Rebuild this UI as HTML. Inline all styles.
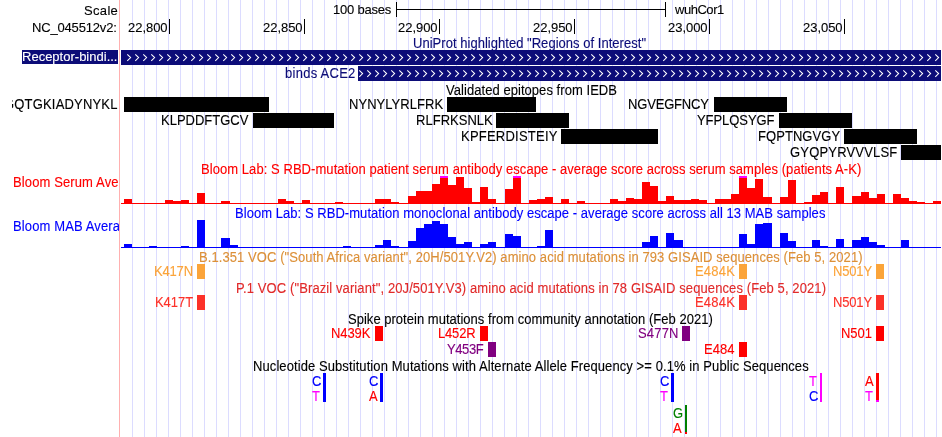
<!DOCTYPE html>
<html><head><meta charset="utf-8"><style>
html,body{margin:0;padding:0;background:#fff;}
#c{position:relative;width:942px;height:437px;overflow:hidden;background:#fff;}
.t{position:absolute;white-space:nowrap;will-change:transform;transform-origin:0 11px;-webkit-text-stroke:0.12px currentColor;font-family:"Liberation Sans",sans-serif;}
</style></head><body><div id="c">
<svg width="942" height="437" style="position:absolute;left:0;top:0" shape-rendering="crispEdges"><rect x="132" y="0" width="1" height="437" fill="#dcdcff"/><rect x="144" y="0" width="1" height="437" fill="#dcdcff"/><rect x="156" y="0" width="1" height="437" fill="#dcdcff"/><rect x="168" y="0" width="1" height="437" fill="#dcdcff"/><rect x="180" y="0" width="1" height="437" fill="#dcdcff"/><rect x="192" y="0" width="1" height="437" fill="#dcdcff"/><rect x="204" y="0" width="1" height="437" fill="#dcdcff"/><rect x="216" y="0" width="1" height="437" fill="#dcdcff"/><rect x="228" y="0" width="1" height="437" fill="#dcdcff"/><rect x="240" y="0" width="1" height="437" fill="#dcdcff"/><rect x="252" y="0" width="1" height="437" fill="#dcdcff"/><rect x="264" y="0" width="1" height="437" fill="#dcdcff"/><rect x="276" y="0" width="1" height="437" fill="#dcdcff"/><rect x="288" y="0" width="1" height="437" fill="#dcdcff"/><rect x="300" y="0" width="1" height="437" fill="#dcdcff"/><rect x="312" y="0" width="1" height="437" fill="#dcdcff"/><rect x="324" y="0" width="1" height="437" fill="#dcdcff"/><rect x="336" y="0" width="1" height="437" fill="#dcdcff"/><rect x="348" y="0" width="1" height="437" fill="#dcdcff"/><rect x="360" y="0" width="1" height="437" fill="#dcdcff"/><rect x="372" y="0" width="1" height="437" fill="#dcdcff"/><rect x="384" y="0" width="1" height="437" fill="#dcdcff"/><rect x="396" y="0" width="1" height="437" fill="#dcdcff"/><rect x="408" y="0" width="1" height="437" fill="#dcdcff"/><rect x="420" y="0" width="1" height="437" fill="#dcdcff"/><rect x="432" y="0" width="1" height="437" fill="#dcdcff"/><rect x="444" y="0" width="1" height="437" fill="#dcdcff"/><rect x="456" y="0" width="1" height="437" fill="#dcdcff"/><rect x="468" y="0" width="1" height="437" fill="#dcdcff"/><rect x="480" y="0" width="1" height="437" fill="#dcdcff"/><rect x="492" y="0" width="1" height="437" fill="#dcdcff"/><rect x="504" y="0" width="1" height="437" fill="#dcdcff"/><rect x="516" y="0" width="1" height="437" fill="#dcdcff"/><rect x="528" y="0" width="1" height="437" fill="#dcdcff"/><rect x="540" y="0" width="1" height="437" fill="#dcdcff"/><rect x="552" y="0" width="1" height="437" fill="#dcdcff"/><rect x="564" y="0" width="1" height="437" fill="#dcdcff"/><rect x="576" y="0" width="1" height="437" fill="#dcdcff"/><rect x="588" y="0" width="1" height="437" fill="#dcdcff"/><rect x="600" y="0" width="1" height="437" fill="#dcdcff"/><rect x="612" y="0" width="1" height="437" fill="#dcdcff"/><rect x="624" y="0" width="1" height="437" fill="#dcdcff"/><rect x="636" y="0" width="1" height="437" fill="#dcdcff"/><rect x="648" y="0" width="1" height="437" fill="#dcdcff"/><rect x="660" y="0" width="1" height="437" fill="#dcdcff"/><rect x="672" y="0" width="1" height="437" fill="#dcdcff"/><rect x="684" y="0" width="1" height="437" fill="#dcdcff"/><rect x="696" y="0" width="1" height="437" fill="#dcdcff"/><rect x="708" y="0" width="1" height="437" fill="#dcdcff"/><rect x="720" y="0" width="1" height="437" fill="#dcdcff"/><rect x="732" y="0" width="1" height="437" fill="#dcdcff"/><rect x="744" y="0" width="1" height="437" fill="#dcdcff"/><rect x="756" y="0" width="1" height="437" fill="#dcdcff"/><rect x="768" y="0" width="1" height="437" fill="#dcdcff"/><rect x="780" y="0" width="1" height="437" fill="#dcdcff"/><rect x="792" y="0" width="1" height="437" fill="#dcdcff"/><rect x="804" y="0" width="1" height="437" fill="#dcdcff"/><rect x="816" y="0" width="1" height="437" fill="#dcdcff"/><rect x="828" y="0" width="1" height="437" fill="#dcdcff"/><rect x="840" y="0" width="1" height="437" fill="#dcdcff"/><rect x="852" y="0" width="1" height="437" fill="#dcdcff"/><rect x="864" y="0" width="1" height="437" fill="#dcdcff"/><rect x="876" y="0" width="1" height="437" fill="#dcdcff"/><rect x="888" y="0" width="1" height="437" fill="#dcdcff"/><rect x="900" y="0" width="1" height="437" fill="#dcdcff"/><rect x="912" y="0" width="1" height="437" fill="#dcdcff"/><rect x="924" y="0" width="1" height="437" fill="#dcdcff"/><rect x="936" y="0" width="1" height="437" fill="#dcdcff"/><rect x="119" y="0" width="1" height="437" fill="#ffb0b0"/><rect x="396" y="2" width="1" height="15" fill="#000"/><rect x="396" y="9" width="270" height="1" fill="#000"/><rect x="665" y="2" width="1" height="15" fill="#000"/><rect x="169" y="19" width="1" height="15" fill="#000"/><rect x="304" y="19" width="1" height="15" fill="#000"/><rect x="439" y="19" width="1" height="15" fill="#000"/><rect x="574" y="19" width="1" height="15" fill="#000"/><rect x="709" y="19" width="1" height="15" fill="#000"/><rect x="844" y="19" width="1" height="15" fill="#000"/><rect x="121" y="50" width="820" height="15" fill="#0c0c78"/><rect x="22" y="50" width="96" height="14" fill="#0c0c78"/><rect x="358" y="66" width="583" height="15" fill="#0c0c78"/><rect x="124" y="97" width="145" height="15" fill="#000"/><rect x="447" y="97" width="89" height="15" fill="#000"/><rect x="714" y="97" width="73" height="15" fill="#000"/><rect x="253" y="113" width="81" height="15" fill="#000"/><rect x="496" y="113" width="73" height="15" fill="#000"/><rect x="779" y="113" width="73" height="15" fill="#000"/><rect x="561" y="129" width="97" height="15" fill="#000"/><rect x="844" y="129" width="73" height="15" fill="#000"/><rect x="901" y="145" width="40" height="15" fill="#000"/><rect x="124" y="199" width="8" height="4" fill="#ff0000"/><rect x="165" y="200" width="8" height="3" fill="#ff0000"/><rect x="173" y="201" width="8" height="2" fill="#ff0000"/><rect x="181" y="200" width="8" height="3" fill="#ff0000"/><rect x="197" y="193" width="8" height="10" fill="#ff0000"/><rect x="221" y="201" width="9" height="2" fill="#ff0000"/><rect x="278" y="199" width="8" height="4" fill="#ff0000"/><rect x="286" y="201" width="8" height="2" fill="#ff0000"/><rect x="302" y="200" width="8" height="3" fill="#ff0000"/><rect x="335" y="202" width="8" height="1" fill="#ff0000"/><rect x="375" y="199" width="8" height="4" fill="#ff0000"/><rect x="383" y="199" width="8" height="4" fill="#ff0000"/><rect x="391" y="202" width="8" height="1" fill="#ff0000"/><rect x="408" y="196" width="8" height="7" fill="#ff0000"/><rect x="416" y="191" width="8" height="12" fill="#ff0000"/><rect x="424" y="191" width="8" height="12" fill="#ff0000"/><rect x="432" y="184" width="8" height="19" fill="#ff0000"/><rect x="440" y="176" width="8" height="2" fill="#ff00ff"/><rect x="440" y="178" width="8" height="25" fill="#ff0000"/><rect x="448" y="185" width="8" height="18" fill="#ff0000"/><rect x="456" y="177" width="8" height="26" fill="#ff0000"/><rect x="464" y="188" width="8" height="15" fill="#ff0000"/><rect x="472" y="202" width="8" height="1" fill="#ff0000"/><rect x="480" y="187" width="8" height="16" fill="#ff0000"/><rect x="488" y="199" width="8" height="4" fill="#ff0000"/><rect x="505" y="189" width="8" height="14" fill="#ff0000"/><rect x="513" y="176" width="8" height="2" fill="#ff00ff"/><rect x="513" y="178" width="8" height="25" fill="#ff0000"/><rect x="529" y="200" width="8" height="3" fill="#ff0000"/><rect x="537" y="199" width="8" height="4" fill="#ff0000"/><rect x="545" y="197" width="8" height="6" fill="#ff0000"/><rect x="561" y="199" width="8" height="4" fill="#ff0000"/><rect x="577" y="201" width="8" height="2" fill="#ff0000"/><rect x="610" y="199" width="8" height="4" fill="#ff0000"/><rect x="618" y="201" width="8" height="2" fill="#ff0000"/><rect x="626" y="198" width="8" height="5" fill="#ff0000"/><rect x="634" y="199" width="8" height="4" fill="#ff0000"/><rect x="642" y="182" width="8" height="21" fill="#ff0000"/><rect x="650" y="186" width="8" height="17" fill="#ff0000"/><rect x="658" y="201" width="8" height="2" fill="#ff0000"/><rect x="666" y="196" width="8" height="7" fill="#ff0000"/><rect x="674" y="200" width="9" height="3" fill="#ff0000"/><rect x="683" y="200" width="8" height="3" fill="#ff0000"/><rect x="691" y="199" width="8" height="4" fill="#ff0000"/><rect x="699" y="200" width="8" height="3" fill="#ff0000"/><rect x="715" y="199" width="8" height="4" fill="#ff0000"/><rect x="723" y="199" width="8" height="4" fill="#ff0000"/><rect x="731" y="194" width="8" height="9" fill="#ff0000"/><rect x="739" y="176" width="8" height="2" fill="#ff00ff"/><rect x="739" y="178" width="8" height="25" fill="#ff0000"/><rect x="747" y="188" width="8" height="15" fill="#ff0000"/><rect x="755" y="179" width="8" height="24" fill="#ff0000"/><rect x="763" y="197" width="9" height="6" fill="#ff0000"/><rect x="780" y="197" width="8" height="6" fill="#ff0000"/><rect x="788" y="180" width="8" height="23" fill="#ff0000"/><rect x="804" y="202" width="8" height="1" fill="#ff0000"/><rect x="812" y="195" width="8" height="8" fill="#ff0000"/><rect x="820" y="192" width="8" height="11" fill="#ff0000"/><rect x="836" y="187" width="8" height="16" fill="#ff0000"/><rect x="852" y="196" width="9" height="7" fill="#ff0000"/><rect x="861" y="192" width="8" height="11" fill="#ff0000"/><rect x="869" y="198" width="8" height="5" fill="#ff0000"/><rect x="877" y="194" width="8" height="9" fill="#ff0000"/><rect x="893" y="194" width="8" height="9" fill="#ff0000"/><rect x="901" y="198" width="8" height="5" fill="#ff0000"/><rect x="909" y="201" width="8" height="2" fill="#ff0000"/><rect x="917" y="202" width="8" height="1" fill="#ff0000"/><rect x="933" y="201" width="8" height="2" fill="#ff0000"/><rect x="121" y="203" width="820" height="1" fill="#ff0000"/><rect x="124" y="244" width="8" height="3" fill="#0000ff"/><rect x="149" y="246" width="8" height="1" fill="#0000ff"/><rect x="181" y="246" width="8" height="1" fill="#0000ff"/><rect x="197" y="220" width="8" height="27" fill="#0000ff"/><rect x="221" y="238" width="9" height="9" fill="#0000ff"/><rect x="230" y="245" width="8" height="2" fill="#0000ff"/><rect x="343" y="246" width="8" height="1" fill="#0000ff"/><rect x="375" y="245" width="8" height="2" fill="#0000ff"/><rect x="383" y="240" width="8" height="7" fill="#0000ff"/><rect x="391" y="246" width="8" height="1" fill="#0000ff"/><rect x="408" y="241" width="8" height="6" fill="#0000ff"/><rect x="416" y="228" width="8" height="19" fill="#0000ff"/><rect x="424" y="224" width="8" height="23" fill="#0000ff"/><rect x="432" y="221" width="8" height="26" fill="#0000ff"/><rect x="440" y="224" width="8" height="23" fill="#0000ff"/><rect x="448" y="237" width="8" height="10" fill="#0000ff"/><rect x="456" y="244" width="8" height="3" fill="#0000ff"/><rect x="464" y="242" width="8" height="5" fill="#0000ff"/><rect x="480" y="244" width="8" height="3" fill="#0000ff"/><rect x="488" y="242" width="8" height="5" fill="#0000ff"/><rect x="505" y="234" width="8" height="13" fill="#0000ff"/><rect x="513" y="236" width="8" height="11" fill="#0000ff"/><rect x="537" y="246" width="8" height="1" fill="#0000ff"/><rect x="545" y="230" width="8" height="17" fill="#0000ff"/><rect x="642" y="242" width="8" height="5" fill="#0000ff"/><rect x="650" y="236" width="8" height="11" fill="#0000ff"/><rect x="666" y="233" width="8" height="14" fill="#0000ff"/><rect x="674" y="240" width="9" height="7" fill="#0000ff"/><rect x="739" y="234" width="8" height="13" fill="#0000ff"/><rect x="747" y="244" width="8" height="3" fill="#0000ff"/><rect x="755" y="224" width="8" height="23" fill="#0000ff"/><rect x="763" y="223" width="9" height="24" fill="#0000ff"/><rect x="780" y="233" width="8" height="14" fill="#0000ff"/><rect x="788" y="241" width="8" height="6" fill="#0000ff"/><rect x="812" y="240" width="8" height="7" fill="#0000ff"/><rect x="820" y="246" width="8" height="1" fill="#0000ff"/><rect x="836" y="239" width="8" height="8" fill="#0000ff"/><rect x="852" y="240" width="9" height="7" fill="#0000ff"/><rect x="861" y="237" width="8" height="10" fill="#0000ff"/><rect x="869" y="242" width="8" height="5" fill="#0000ff"/><rect x="877" y="245" width="8" height="2" fill="#0000ff"/><rect x="901" y="240" width="8" height="7" fill="#0000ff"/><rect x="121" y="247" width="820" height="1" fill="#0000ff"/><rect x="197" y="264" width="8" height="15" fill="#fba43a"/><rect x="739" y="264" width="8" height="15" fill="#fba43a"/><rect x="876" y="264" width="8" height="15" fill="#fba43a"/><rect x="197" y="295" width="8" height="15" fill="#fc3129"/><rect x="739" y="295" width="8" height="15" fill="#fc3129"/><rect x="876" y="295" width="8" height="15" fill="#fc3129"/><rect x="375" y="326" width="8" height="15" fill="#ff0000"/><rect x="480" y="326" width="8" height="15" fill="#ff0000"/><rect x="682" y="326" width="8" height="15" fill="#800080"/><rect x="876" y="326" width="8" height="15" fill="#ff0000"/><rect x="488" y="342" width="8" height="15" fill="#800080"/><rect x="739" y="342" width="8" height="15" fill="#ff0000"/><rect x="323" y="373" width="3" height="29" fill="#0000ff"/><rect x="380" y="373" width="3" height="29" fill="#0000ff"/><rect x="671" y="373" width="3" height="29" fill="#0000ff"/><rect x="685" y="405" width="2" height="29" fill="#008000"/><rect x="685" y="432" width="2" height="2" fill="#ff0000"/><rect x="820" y="373" width="2" height="29" fill="#ff00ff"/><rect x="876" y="373" width="3" height="29" fill="#ff0000"/><rect x="876" y="400" width="3" height="2" fill="#ff00ff"/><path d="M127.3,54.4 L130.6,57.6 L127.3,60.8 M135.3,54.4 L138.6,57.6 L135.3,60.8 M143.3,54.4 L146.6,57.6 L143.3,60.8 M151.3,54.4 L154.6,57.6 L151.3,60.8 M159.3,54.4 L162.6,57.6 L159.3,60.8 M167.3,54.4 L170.6,57.6 L167.3,60.8 M175.3,54.4 L178.6,57.6 L175.3,60.8 M183.3,54.4 L186.6,57.6 L183.3,60.8 M191.3,54.4 L194.6,57.6 L191.3,60.8 M199.3,54.4 L202.6,57.6 L199.3,60.8 M207.3,54.4 L210.6,57.6 L207.3,60.8 M215.3,54.4 L218.6,57.6 L215.3,60.8 M223.3,54.4 L226.6,57.6 L223.3,60.8 M231.3,54.4 L234.6,57.6 L231.3,60.8 M239.3,54.4 L242.6,57.6 L239.3,60.8 M247.3,54.4 L250.6,57.6 L247.3,60.8 M255.3,54.4 L258.6,57.6 L255.3,60.8 M263.3,54.4 L266.6,57.6 L263.3,60.8 M271.3,54.4 L274.6,57.6 L271.3,60.8 M279.3,54.4 L282.6,57.6 L279.3,60.8 M287.3,54.4 L290.6,57.6 L287.3,60.8 M295.3,54.4 L298.6,57.6 L295.3,60.8 M303.3,54.4 L306.6,57.6 L303.3,60.8 M311.3,54.4 L314.6,57.6 L311.3,60.8 M319.3,54.4 L322.6,57.6 L319.3,60.8 M327.3,54.4 L330.6,57.6 L327.3,60.8 M335.3,54.4 L338.6,57.6 L335.3,60.8 M343.3,54.4 L346.6,57.6 L343.3,60.8 M351.3,54.4 L354.6,57.6 L351.3,60.8 M359.3,54.4 L362.6,57.6 L359.3,60.8 M367.3,54.4 L370.6,57.6 L367.3,60.8 M375.3,54.4 L378.6,57.6 L375.3,60.8 M383.3,54.4 L386.6,57.6 L383.3,60.8 M391.3,54.4 L394.6,57.6 L391.3,60.8 M399.3,54.4 L402.6,57.6 L399.3,60.8 M407.3,54.4 L410.6,57.6 L407.3,60.8 M415.3,54.4 L418.6,57.6 L415.3,60.8 M423.3,54.4 L426.6,57.6 L423.3,60.8 M431.3,54.4 L434.6,57.6 L431.3,60.8 M439.3,54.4 L442.6,57.6 L439.3,60.8 M447.3,54.4 L450.6,57.6 L447.3,60.8 M455.3,54.4 L458.6,57.6 L455.3,60.8 M463.3,54.4 L466.6,57.6 L463.3,60.8 M471.3,54.4 L474.6,57.6 L471.3,60.8 M479.3,54.4 L482.6,57.6 L479.3,60.8 M487.3,54.4 L490.6,57.6 L487.3,60.8 M495.3,54.4 L498.6,57.6 L495.3,60.8 M503.3,54.4 L506.6,57.6 L503.3,60.8 M511.3,54.4 L514.6,57.6 L511.3,60.8 M519.3,54.4 L522.6,57.6 L519.3,60.8 M527.3,54.4 L530.6,57.6 L527.3,60.8 M535.3,54.4 L538.6,57.6 L535.3,60.8 M543.3,54.4 L546.6,57.6 L543.3,60.8 M551.3,54.4 L554.6,57.6 L551.3,60.8 M559.3,54.4 L562.6,57.6 L559.3,60.8 M567.3,54.4 L570.6,57.6 L567.3,60.8 M575.3,54.4 L578.6,57.6 L575.3,60.8 M583.3,54.4 L586.6,57.6 L583.3,60.8 M591.3,54.4 L594.6,57.6 L591.3,60.8 M599.3,54.4 L602.6,57.6 L599.3,60.8 M607.3,54.4 L610.6,57.6 L607.3,60.8 M615.3,54.4 L618.6,57.6 L615.3,60.8 M623.3,54.4 L626.6,57.6 L623.3,60.8 M631.3,54.4 L634.6,57.6 L631.3,60.8 M639.3,54.4 L642.6,57.6 L639.3,60.8 M647.3,54.4 L650.6,57.6 L647.3,60.8 M655.3,54.4 L658.6,57.6 L655.3,60.8 M663.3,54.4 L666.6,57.6 L663.3,60.8 M671.3,54.4 L674.6,57.6 L671.3,60.8 M679.3,54.4 L682.6,57.6 L679.3,60.8 M687.3,54.4 L690.6,57.6 L687.3,60.8 M695.3,54.4 L698.6,57.6 L695.3,60.8 M703.3,54.4 L706.6,57.6 L703.3,60.8 M711.3,54.4 L714.6,57.6 L711.3,60.8 M719.3,54.4 L722.6,57.6 L719.3,60.8 M727.3,54.4 L730.6,57.6 L727.3,60.8 M735.3,54.4 L738.6,57.6 L735.3,60.8 M743.3,54.4 L746.6,57.6 L743.3,60.8 M751.3,54.4 L754.6,57.6 L751.3,60.8 M759.3,54.4 L762.6,57.6 L759.3,60.8 M767.3,54.4 L770.6,57.6 L767.3,60.8 M775.3,54.4 L778.6,57.6 L775.3,60.8 M783.3,54.4 L786.6,57.6 L783.3,60.8 M791.3,54.4 L794.6,57.6 L791.3,60.8 M799.3,54.4 L802.6,57.6 L799.3,60.8 M807.3,54.4 L810.6,57.6 L807.3,60.8 M815.3,54.4 L818.6,57.6 L815.3,60.8 M823.3,54.4 L826.6,57.6 L823.3,60.8 M831.3,54.4 L834.6,57.6 L831.3,60.8 M839.3,54.4 L842.6,57.6 L839.3,60.8 M847.3,54.4 L850.6,57.6 L847.3,60.8 M855.3,54.4 L858.6,57.6 L855.3,60.8 M863.3,54.4 L866.6,57.6 L863.3,60.8 M871.3,54.4 L874.6,57.6 L871.3,60.8 M879.3,54.4 L882.6,57.6 L879.3,60.8 M887.3,54.4 L890.6,57.6 L887.3,60.8 M895.3,54.4 L898.6,57.6 L895.3,60.8 M903.3,54.4 L906.6,57.6 L903.3,60.8 M911.3,54.4 L914.6,57.6 L911.3,60.8 M919.3,54.4 L922.6,57.6 L919.3,60.8 M927.3,54.4 L930.6,57.6 L927.3,60.8 M935.3,54.4 L938.6,57.6 L935.3,60.8 M359.3,70.4 L362.6,73.6 L359.3,76.8 M367.3,70.4 L370.6,73.6 L367.3,76.8 M375.3,70.4 L378.6,73.6 L375.3,76.8 M383.3,70.4 L386.6,73.6 L383.3,76.8 M391.3,70.4 L394.6,73.6 L391.3,76.8 M399.3,70.4 L402.6,73.6 L399.3,76.8 M407.3,70.4 L410.6,73.6 L407.3,76.8 M415.3,70.4 L418.6,73.6 L415.3,76.8 M423.3,70.4 L426.6,73.6 L423.3,76.8 M431.3,70.4 L434.6,73.6 L431.3,76.8 M439.3,70.4 L442.6,73.6 L439.3,76.8 M447.3,70.4 L450.6,73.6 L447.3,76.8 M455.3,70.4 L458.6,73.6 L455.3,76.8 M463.3,70.4 L466.6,73.6 L463.3,76.8 M471.3,70.4 L474.6,73.6 L471.3,76.8 M479.3,70.4 L482.6,73.6 L479.3,76.8 M487.3,70.4 L490.6,73.6 L487.3,76.8 M495.3,70.4 L498.6,73.6 L495.3,76.8 M503.3,70.4 L506.6,73.6 L503.3,76.8 M511.3,70.4 L514.6,73.6 L511.3,76.8 M519.3,70.4 L522.6,73.6 L519.3,76.8 M527.3,70.4 L530.6,73.6 L527.3,76.8 M535.3,70.4 L538.6,73.6 L535.3,76.8 M543.3,70.4 L546.6,73.6 L543.3,76.8 M551.3,70.4 L554.6,73.6 L551.3,76.8 M559.3,70.4 L562.6,73.6 L559.3,76.8 M567.3,70.4 L570.6,73.6 L567.3,76.8 M575.3,70.4 L578.6,73.6 L575.3,76.8 M583.3,70.4 L586.6,73.6 L583.3,76.8 M591.3,70.4 L594.6,73.6 L591.3,76.8 M599.3,70.4 L602.6,73.6 L599.3,76.8 M607.3,70.4 L610.6,73.6 L607.3,76.8 M615.3,70.4 L618.6,73.6 L615.3,76.8 M623.3,70.4 L626.6,73.6 L623.3,76.8 M631.3,70.4 L634.6,73.6 L631.3,76.8 M639.3,70.4 L642.6,73.6 L639.3,76.8 M647.3,70.4 L650.6,73.6 L647.3,76.8 M655.3,70.4 L658.6,73.6 L655.3,76.8 M663.3,70.4 L666.6,73.6 L663.3,76.8 M671.3,70.4 L674.6,73.6 L671.3,76.8 M679.3,70.4 L682.6,73.6 L679.3,76.8 M687.3,70.4 L690.6,73.6 L687.3,76.8 M695.3,70.4 L698.6,73.6 L695.3,76.8 M703.3,70.4 L706.6,73.6 L703.3,76.8 M711.3,70.4 L714.6,73.6 L711.3,76.8 M719.3,70.4 L722.6,73.6 L719.3,76.8 M727.3,70.4 L730.6,73.6 L727.3,76.8 M735.3,70.4 L738.6,73.6 L735.3,76.8 M743.3,70.4 L746.6,73.6 L743.3,76.8 M751.3,70.4 L754.6,73.6 L751.3,76.8 M759.3,70.4 L762.6,73.6 L759.3,76.8 M767.3,70.4 L770.6,73.6 L767.3,76.8 M775.3,70.4 L778.6,73.6 L775.3,76.8 M783.3,70.4 L786.6,73.6 L783.3,76.8 M791.3,70.4 L794.6,73.6 L791.3,76.8 M799.3,70.4 L802.6,73.6 L799.3,76.8 M807.3,70.4 L810.6,73.6 L807.3,76.8 M815.3,70.4 L818.6,73.6 L815.3,76.8 M823.3,70.4 L826.6,73.6 L823.3,76.8 M831.3,70.4 L834.6,73.6 L831.3,76.8 M839.3,70.4 L842.6,73.6 L839.3,76.8 M847.3,70.4 L850.6,73.6 L847.3,76.8 M855.3,70.4 L858.6,73.6 L855.3,76.8 M863.3,70.4 L866.6,73.6 L863.3,76.8 M871.3,70.4 L874.6,73.6 L871.3,76.8 M879.3,70.4 L882.6,73.6 L879.3,76.8 M887.3,70.4 L890.6,73.6 L887.3,76.8 M895.3,70.4 L898.6,73.6 L895.3,76.8 M903.3,70.4 L906.6,73.6 L903.3,76.8 M911.3,70.4 L914.6,73.6 L911.3,76.8 M919.3,70.4 L922.6,73.6 L919.3,76.8 M927.3,70.4 L930.6,73.6 L927.3,76.8 M935.3,70.4 L938.6,73.6 L935.3,76.8" stroke="#fff" stroke-width="1.05" fill="none" shape-rendering="auto"/></svg>
<div class="t" style="top:3.60px;color:#000;font-size:13px;line-height:13px;letter-spacing:0.325px;left:83.60px;transform:scaleY(1.05);">Scale</div><div class="t" style="top:2.60px;color:#000;font-size:13px;line-height:13px;letter-spacing:-0.212px;left:333.40px;transform:scaleY(1.0);">100 bases</div><div class="t" style="top:2.70px;color:#000;font-size:13px;line-height:13px;letter-spacing:-0.467px;left:675.10px;transform:scaleY(1.0);">wuhCor1</div><div class="t" style="top:21.00px;color:#000;font-size:13px;line-height:13px;letter-spacing:-0.173px;left:32.00px;transform:scaleY(1.0);">NC_045512v2:</div><div class="t" style="top:21.00px;color:#000;font-size:13px;line-height:13px;letter-spacing:-0.040px;left:127.50px;transform:scaleY(1.0);">22,800</div><div class="t" style="top:21.00px;color:#000;font-size:13px;line-height:13px;letter-spacing:-0.040px;left:262.50px;transform:scaleY(1.0);">22,850</div><div class="t" style="top:21.00px;color:#000;font-size:13px;line-height:13px;letter-spacing:-0.040px;left:397.50px;transform:scaleY(1.0);">22,900</div><div class="t" style="top:21.00px;color:#000;font-size:13px;line-height:13px;letter-spacing:-0.040px;left:532.50px;transform:scaleY(1.0);">22,950</div><div class="t" style="top:21.00px;color:#000;font-size:13px;line-height:13px;letter-spacing:-0.040px;left:667.50px;transform:scaleY(1.0);">23,000</div><div class="t" style="top:21.00px;color:#000;font-size:13px;line-height:13px;letter-spacing:-0.040px;left:802.50px;transform:scaleY(1.0);">23,050</div><div class="t" style="top:36.80px;color:#0c0c78;font-size:13px;line-height:13px;letter-spacing:0.030px;left:413.40px;transform:scaleY(1.06);">UniProt highlighted "Regions of Interest"</div><div class="t" style="top:50.40px;color:#fff;font-size:13px;line-height:13px;letter-spacing:0.006px;left:21.90px;transform:scaleY(1.0);">Receptor-bindi...</div><div class="t" style="top:67.10px;color:#0c0c78;font-size:13px;line-height:13px;letter-spacing:0.267px;left:284.80px;transform:scaleY(1.06);">binds ACE2</div><div class="t" style="top:84.00px;color:#000;font-size:13px;line-height:13px;letter-spacing:0.052px;left:445.60px;transform:scaleY(1.06);">Validated epitopes from IEDB</div><div style="position:absolute;left:12px;top:0;width:107px;height:120px;overflow:hidden"><div class="t" style="top:97.60px;color:#000;font-size:13px;line-height:13px;letter-spacing:0.180px;right:1.42px;text-align:right;transform:scaleY(1.07);">GQTGKIADYNYKL</div></div><div class="t" style="top:97.60px;color:#000;font-size:13px;line-height:13px;letter-spacing:0.040px;left:348.70px;transform:scaleY(1.07);">NYNYLYRLFRK</div><div class="t" style="top:97.60px;color:#000;font-size:13px;line-height:13px;letter-spacing:-0.175px;left:627.70px;transform:scaleY(1.07);">NGVEGFNCY</div><div class="t" style="top:113.60px;color:#000;font-size:13px;line-height:13px;letter-spacing:-0.011px;left:161.40px;transform:scaleY(1.07);">KLPDDFTGCV</div><div class="t" style="top:113.60px;color:#000;font-size:13px;line-height:13px;letter-spacing:0.025px;left:415.60px;transform:scaleY(1.07);">RLFRKSNLK</div><div class="t" style="top:113.60px;color:#000;font-size:13px;line-height:13px;letter-spacing:-0.062px;left:696.60px;transform:scaleY(1.07);">YFPLQSYGF</div><div class="t" style="top:129.60px;color:#000;font-size:13px;line-height:13px;letter-spacing:0.227px;left:460.50px;transform:scaleY(1.07);">KPFERDISTEIY</div><div class="t" style="top:129.60px;color:#000;font-size:13px;line-height:13px;letter-spacing:0.062px;left:757.60px;transform:scaleY(1.07);">FQPTNGVGY</div><div class="t" style="top:145.60px;color:#000;font-size:13px;line-height:13px;letter-spacing:0.182px;left:789.80px;transform:scaleY(1.07);">GYQPYRVVVLSF</div><div class="t" style="top:163.30px;color:#ff0000;font-size:13px;line-height:13px;letter-spacing:0.060px;left:200.60px;transform:scaleY(1.06);">Bloom Lab: S RBD-mutation patient serum antibody escape - average score across serum samples (patients A-K)</div><div class="t" style="top:207.20px;color:#0000ff;font-size:13px;line-height:13px;letter-spacing:0.047px;left:234.60px;transform:scaleY(1.06);">Bloom Lab: S RBD-mutation monoclonal antibody escape - average score across all 13 MAB samples</div><div style="position:absolute;left:0;top:0;width:119px;height:437px;overflow:hidden"><div class="t" style="top:175.80px;color:#ff0000;font-size:13px;line-height:13px;letter-spacing:0.120px;left:13.00px;transform:scaleY(1.06);">Bloom Serum Average</div><div class="t" style="top:219.80px;color:#0000ff;font-size:13px;line-height:13px;letter-spacing:0.120px;left:13.00px;transform:scaleY(1.06);">Bloom MAB Average</div></div><div class="t" style="top:250.70px;color:#dc9038;font-size:13px;line-height:13px;letter-spacing:0.080px;left:198.90px;transform:scaleY(1.06);">B.1.351 VOC ("South Africa variant", 20H/501Y.V2) amino acid mutations in 793 GISAID sequences (Feb 5, 2021)</div><div class="t" style="top:264.80px;color:#fba43a;font-size:13px;line-height:13px;letter-spacing:-0.175px;left:154.00px;transform:scaleY(1.07);">K417N</div><div class="t" style="top:264.80px;color:#fba43a;font-size:13px;line-height:13px;letter-spacing:0.200px;left:695.40px;transform:scaleY(1.07);">E484K</div><div class="t" style="top:264.80px;color:#fba43a;font-size:13px;line-height:13px;letter-spacing:-0.175px;left:832.70px;transform:scaleY(1.07);">N501Y</div><div class="t" style="top:281.80px;color:#e12a2a;font-size:13px;line-height:13px;letter-spacing:0.101px;left:235.80px;transform:scaleY(1.06);">P.1 VOC ("Brazil variant", 20J/501Y.V3) amino acid mutations in 78 GISAID sequences (Feb 5, 2021)</div><div class="t" style="top:295.60px;color:#fc3129;font-size:13px;line-height:13px;letter-spacing:-0.050px;left:154.80px;transform:scaleY(1.07);">K417T</div><div class="t" style="top:295.60px;color:#fc3129;font-size:13px;line-height:13px;letter-spacing:0.200px;left:695.40px;transform:scaleY(1.07);">E484K</div><div class="t" style="top:295.60px;color:#fc3129;font-size:13px;line-height:13px;letter-spacing:-0.175px;left:832.70px;transform:scaleY(1.07);">N501Y</div><div class="t" style="top:313.20px;color:#000;font-size:13px;line-height:13px;letter-spacing:0.022px;left:347.90px;transform:scaleY(1.06);">Spike protein mutations from community annotation (Feb 2021)</div><div class="t" style="top:326.60px;color:#ff0000;font-size:13px;line-height:13px;letter-spacing:-0.100px;left:331.40px;transform:scaleY(1.07);">N439K</div><div class="t" style="top:326.60px;color:#ff0000;font-size:13px;line-height:13px;letter-spacing:-0.175px;left:438.40px;transform:scaleY(1.07);">L452R</div><div class="t" style="top:326.60px;color:#800080;font-size:13px;line-height:13px;letter-spacing:0.175px;left:638.30px;transform:scaleY(1.07);">S477N</div><div class="t" style="top:326.60px;color:#ff0000;font-size:13px;line-height:13px;letter-spacing:-0.067px;left:841.40px;transform:scaleY(1.07);">N501</div><div class="t" style="top:342.60px;color:#800080;font-size:13px;line-height:13px;letter-spacing:-0.400px;left:447.00px;transform:scaleY(1.07);">Y453F</div><div class="t" style="top:342.60px;color:#ff0000;font-size:13px;line-height:13px;letter-spacing:0.033px;left:704.30px;transform:scaleY(1.07);">E484</div><div class="t" style="top:360.20px;color:#000;font-size:13px;line-height:13px;letter-spacing:0.086px;left:252.60px;transform:scaleY(1.06);">Nucleotide Substitution Mutations with Alternate Allele Frequency &gt;= 0.1% in Public Sequences</div><div class="t" style="top:374.60px;color:#0000ff;font-size:13px;line-height:13px;left:312.00px;transform:scaleY(1.07);">C</div><div class="t" style="top:389.70px;color:#ff00ff;font-size:13px;line-height:13px;left:312.00px;transform:scaleY(1.07);">T</div><div class="t" style="top:374.60px;color:#0000ff;font-size:13px;line-height:13px;left:368.60px;transform:scaleY(1.07);">C</div><div class="t" style="top:389.70px;color:#ff0000;font-size:13px;line-height:13px;left:368.60px;transform:scaleY(1.07);">A</div><div class="t" style="top:374.60px;color:#0000ff;font-size:13px;line-height:13px;left:660.00px;transform:scaleY(1.07);">C</div><div class="t" style="top:389.70px;color:#ff00ff;font-size:13px;line-height:13px;left:660.00px;transform:scaleY(1.07);">T</div><div class="t" style="top:406.60px;color:#008000;font-size:13px;line-height:13px;left:672.60px;transform:scaleY(1.07);">G</div><div class="t" style="top:421.70px;color:#ff0000;font-size:13px;line-height:13px;left:672.60px;transform:scaleY(1.07);">A</div><div class="t" style="top:374.60px;color:#ff00ff;font-size:13px;line-height:13px;left:808.80px;transform:scaleY(1.07);">T</div><div class="t" style="top:389.70px;color:#0000ff;font-size:13px;line-height:13px;left:808.80px;transform:scaleY(1.07);">C</div><div class="t" style="top:374.60px;color:#ff0000;font-size:13px;line-height:13px;left:865.00px;transform:scaleY(1.07);">A</div><div class="t" style="top:389.70px;color:#ff00ff;font-size:13px;line-height:13px;left:865.00px;transform:scaleY(1.07);">T</div>
</div></body></html>
